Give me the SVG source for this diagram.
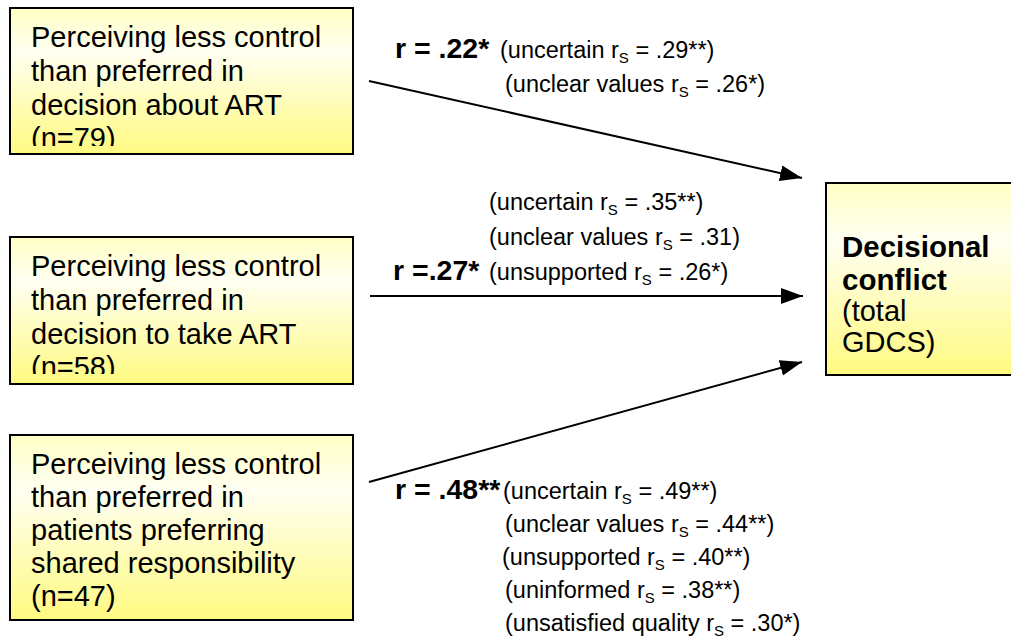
<svg xmlns="http://www.w3.org/2000/svg" width="1011" height="637" viewBox="0 0 1011 637">
<style>
.box{stroke:#000;stroke-width:2;fill:url(#yg)}
.bt{font-family:"Liberation Sans",Arial,sans-serif;font-size:29px;fill:#000}
.bb{font-family:"Liberation Sans",Arial,sans-serif;font-size:29.5px;font-weight:bold;fill:#000}
.r{font-family:"Liberation Sans",Arial,sans-serif;font-size:28.5px;font-weight:bold;fill:#000}
.s{font-family:"Liberation Sans",Arial,sans-serif;font-size:23.5px;fill:#000}
.sub{font-size:15px}
.conn{stroke:#000;stroke-width:2;fill:none;marker-end:url(#ah)}
</style>
<defs>
<linearGradient id="yg" x1="0" y1="0" x2="0" y2="1">
<stop offset="0" stop-color="#FFFFC4"/>
<stop offset="0.3" stop-color="#FFFFF2"/>
<stop offset="1" stop-color="#FFFA80"/>
</linearGradient>
<marker id="ah" markerUnits="userSpaceOnUse" markerWidth="24" markerHeight="18" refX="22" refY="8" orient="auto">
<path d="M0,0 L22,8 L0,16 z" fill="#000"/>
</marker>
<clipPath id="c1"><rect x="10" y="8" width="343" height="138"/></clipPath>
<clipPath id="c2"><rect x="10" y="237" width="343" height="137"/></clipPath>
</defs>
<g id="connectors">
<line class="conn" x1="369" y1="81" x2="802" y2="178"/>
<line class="conn" x1="370" y1="296" x2="803" y2="296"/>
<line class="conn" x1="369" y1="482" x2="802" y2="362"/>
</g>
<g id="node1">
<rect class="box" x="10" y="8" width="343" height="146"/>
<g clip-path="url(#c1)">
<text class="bt" x="31" y="47">Perceiving less control</text>
<text class="bt" x="31" y="81">than preferred in</text>
<text class="bt" x="31" y="115">decision about ART</text>
<text class="bt" x="31" y="148">(n=79)</text>
</g>
</g>
<g id="node2">
<rect class="box" x="10" y="237" width="343" height="147"/>
<g clip-path="url(#c2)">
<text class="bt" x="31" y="276">Perceiving less control</text>
<text class="bt" x="31" y="310">than preferred in</text>
<text class="bt" x="31" y="344">decision to take ART</text>
<text class="bt" x="31" y="377">(n=58)</text>
</g>
</g>
<g id="node3">
<rect class="box" x="10" y="435" width="343" height="185"/>
<text class="bt" x="31" y="474">Perceiving less control</text>
<text class="bt" x="31" y="507">than preferred in</text>
<text class="bt" x="31" y="540">patients preferring</text>
<text class="bt" x="31" y="573">shared responsibility</text>
<text class="bt" x="31" y="606">(n=47)</text>
</g>
<g id="node4">
<rect class="box" x="826" y="183" width="195" height="192"/>
<text class="bb" x="842" y="257">Decisional</text>
<text class="bb" x="842" y="290">conflict</text>
<text class="bt" x="842" y="321">(total</text>
<text class="bt" x="842" y="352">GDCS)</text>
</g>
<g id="labels">
<text class="r" x="395" y="58">r = .22*</text>
<text class="s" x="500" y="58">(uncertain r<tspan class="sub" dy="5">S</tspan><tspan dy="-5"> = .29**)</tspan></text>
<text class="s" x="505" y="92">(unclear values r<tspan class="sub" dy="5">S</tspan><tspan dy="-5"> = .26*)</tspan></text>

<text class="s" x="489" y="210">(uncertain r<tspan class="sub" dy="5">S</tspan><tspan dy="-5"> = .35**)</tspan></text>
<text class="s" x="489" y="245">(unclear values r<tspan class="sub" dy="5">S</tspan><tspan dy="-5"> = .31)</tspan></text>
<text class="r" x="393" y="280">r =.27*</text>
<text class="s" x="489" y="280">(unsupported r<tspan class="sub" dy="5">S</tspan><tspan dy="-5"> = .26*)</tspan></text>

<text class="r" x="395" y="499">r = .48**</text>
<text class="s" x="503" y="499">(uncertain r<tspan class="sub" dy="5">S</tspan><tspan dy="-5"> = .49**)</tspan></text>
<text class="s" x="505" y="532">(unclear values r<tspan class="sub" dy="5">S</tspan><tspan dy="-5"> = .44**)</tspan></text>
<text class="s" x="502" y="565">(unsupported r<tspan class="sub" dy="5">S</tspan><tspan dy="-5"> = .40**)</tspan></text>
<text class="s" x="505" y="598">(uninformed r<tspan class="sub" dy="5">S</tspan><tspan dy="-5"> = .38**)</tspan></text>
<text class="s" x="505" y="631">(unsatisfied quality r<tspan class="sub" dy="5">S</tspan><tspan dy="-5"> = .30*)</tspan></text>
</g>
</svg>
